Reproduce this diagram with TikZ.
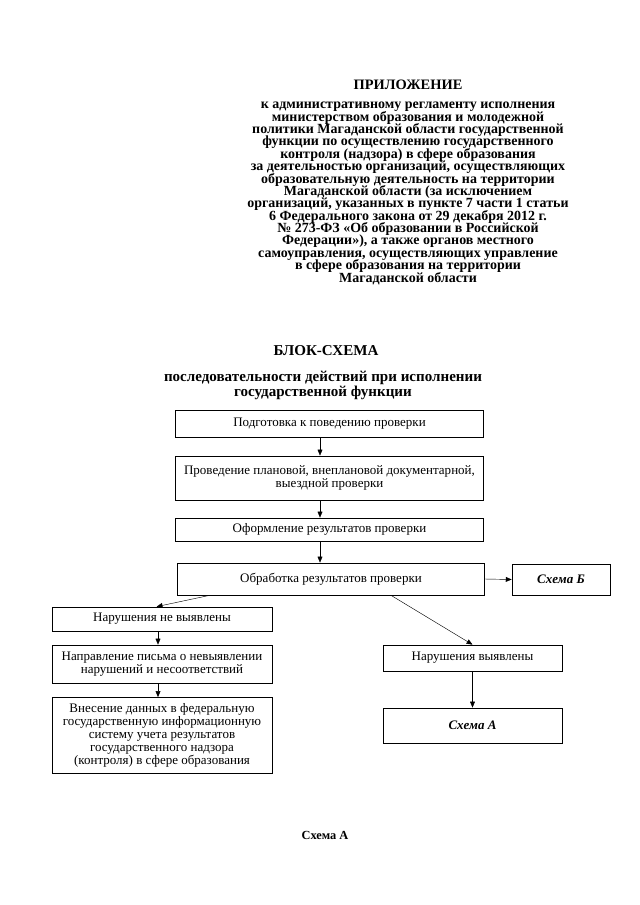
\documentclass[tikz,border=0pt]{standalone}
\usepackage{fontspec}
\setmainfont{Liberation Serif}
\usetikzlibrary{positioning,arrows.meta}
\newcommand\tightlines{\lineskiplimit=-16000pt\relax}

\begin{document}
\begin{tikzpicture}[x=0.93pt, y=-0.93pt,
  every node/.style={font={\fontsize{12.1}{12.2}\selectfont\tightlines}, align=center, inner sep=1pt},
  box/.style={draw, line width=0.7pt},
  >={Triangle[length=5.5pt, width=4.5pt]}]
\useasboundingbox (0,0) rectangle (640,905);
% header
\node (appx) at (408,85) {\fontsize{13.4}{14}\selectfont\bfseries ПРИЛОЖЕНИЕ};
\node[anchor=north, font={\fontsize{13}{11.5}\selectfont\tightlines\bfseries}] (appxtext) at (408,101) {к административному регламенту исполнения\\
министерством образования и молодежной\\
политики Магаданской области государственной\\
функции по осуществлению государственного\\
контроля (надзора) в сфере образования\\
за деятельностью организаций, осуществляющих\\
образовательную деятельность на территории\\
Магаданской области (за исключением\\
организаций, указанных в пункте 7 части 1 статьи\\
6 Федерального закона от 29 декабря 2012 г.\\
№ 273-ФЗ «Об образовании в Российской\\
Федерации»), а также органов местного\\
самоуправления, осуществляющих управление\\
в сфере образования на территории\\
Магаданской области};
\node (title) at (326,351) {\fontsize{14}{15}\selectfont\bfseries БЛОК-СХЕМА};
\node[font={\fontsize{14}{14}\selectfont\bfseries}] (subtitle) at (323,385) {последовательности действий при исполнении\\государственной функции};
% boxes
\node[box, minimum width=287pt, minimum height=25pt] (prep) at (329.5,423.5) {Подготовка к поведению проверки};
\node[box, minimum width=287pt, minimum height=41pt] (audit) at (329.5,478) {Проведение плановой, внеплановой документарной,\\выездной проверки};
\node[box, minimum width=287pt, minimum height=21.4pt] (record) at (329.5,529.5) {Оформление результатов проверки};
\node[box, minimum width=285.5pt, minimum height=29.8pt] (process) at (331,579) {Обработка результатов проверки};
\node[box, minimum width=91pt, minimum height=28.8pt] (schemeB) at (561,579.5) {\bfseries\itshape Схема Б};
\node[box, minimum width=204.6pt, minimum height=22.3pt] (noviol) at (162,619) {Нарушения не выявлены};
\node[box, minimum width=204.6pt, minimum height=35.3pt] (letter) at (162,664) {Направление письма о невыявлении\\нарушений и несоответствий};
\node[box, minimum width=204.6pt, minimum height=70.7pt] (fgis) at (162,735.5) {Внесение данных в федеральную\\государственную информационную\\систему учета результатов\\государственного надзора\\(контроля) в сфере образования};
\node[box, minimum width=166.5pt, minimum height=24.2pt] (viol) at (472.5,658) {Нарушения выявлены};
\node[box, minimum width=166.5pt, minimum height=32.6pt] (schemeA) at (472.5,725.5) {\bfseries\itshape Схема А};
\node (foot) at (325,835) {\fontsize{11.5}{12}\selectfont\bfseries Схема А};
% arrows
\coordinate (ax) at (320,0);
\coordinate (bx) at (158,0);
\draw[->] (prep.south -| ax) -- (audit.north -| ax);
\draw[->] (audit.south -| ax) -- (record.north -| ax);
\draw[->] (record.south -| ax) -- (process.north -| ax);
\draw[->] (process.east) -- (schemeB.west);
\draw[->] ([xshift=30pt]process.south west) -- ([xshift=-5pt]noviol.north);
\draw[->] ([xshift=199pt]process.south west) -- (viol.north);
\draw[->] (noviol.south -| bx) -- (letter.north -| bx);
\draw[->] (letter.south -| bx) -- (fgis.north -| bx);
\draw[->] (viol) -- (schemeA);
\end{tikzpicture}
\end{document}
